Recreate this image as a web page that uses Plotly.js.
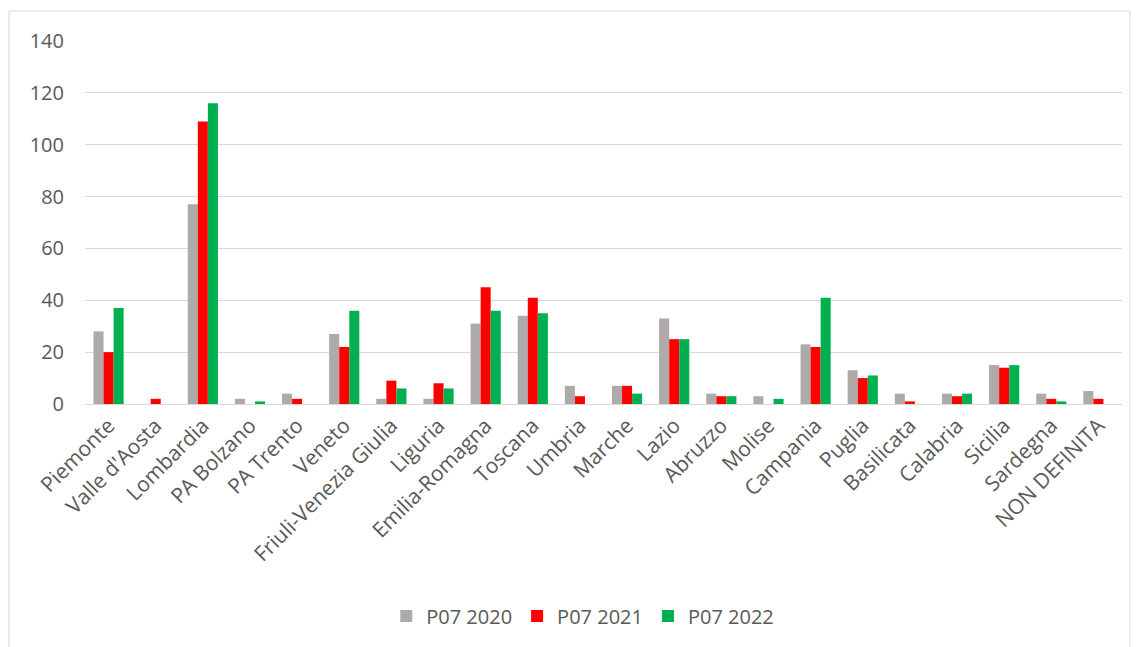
<!DOCTYPE html>
<html>
<head>
<meta charset="utf-8">
<script src="https://cdn.plot.ly/plotly-3.0.1.min.js"></script>
<style>html,body{margin:0;padding:0;background:#fff;}#chart{width:1138px;height:647px;}</style>
</head>
<body>
<div id="chart"></div>
<script>
const categories = ["Piemonte","Valle d'Aosta","Lombardia","PA Bolzano","PA Trento","Veneto","Friuli-Venezia Giulia","Liguria","Emilia-Romagna","Toscana","Umbria","Marche","Lazio","Abruzzo","Molise","Campania","Puglia","Basilicata","Calabria","Sicilia","Sardegna","NON DEFINITA"];
const p07_2020 = [28,0,77,2,4,27,2,2,31,34,7,7,33,4,3,23,13,4,4,15,4,5];
const p07_2021 = [20,2,109,0,2,22,9,8,45,41,3,7,25,3,0,22,10,1,3,14,2,2];
const p07_2022 = [37,0,116,1,0,36,6,6,36,35,0,4,25,3,2,41,11,0,4,15,1,0];
const seriesNames = ["P07 2020","P07 2021","P07 2022"];
const colors = ["#AEAAAA","#FF0000","#00B050"];

const traces = [p07_2020,p07_2021,p07_2022].map((v,i)=>({
  type:'bar', x:categories, y:v, name:seriesNames[i],
  marker:{color:colors[i]}, hoverinfo:'skip'
}));

const layout = {
  width:1138, height:647,
  margin:{l:85, r:16, t:41, b:243},
  paper_bgcolor:'#fff', plot_bgcolor:'#fff',
  barmode:'group', bargap:0.36, bargroupgap:0,
  font:{family:"'Open Sans', sans-serif", color:'#595959', size:20},
  xaxis:{tickangle:-45, tickfont:{size:21, color:'#595959'}, showgrid:false,
         showline:true, linecolor:'#d9d9d9', linewidth:1, ticks:'', automargin:false},
  yaxis:{range:[0,140], dtick:20, tickfont:{size:20, color:'#595959'}, showgrid:true,
         gridcolor:'#d9d9d9', gridwidth:1, zeroline:false, showline:false, ticks:'',
         ticklabelstandoff:20, automargin:false},
  legend:{orientation:'h', x:0.48, xanchor:'center', y:-0.584, yanchor:'middle',
          font:{size:20, color:'#595959'}, itemwidth:30, traceorder:'normal'},
  shapes:[{type:'rect', xref:'paper', yref:'paper', x0:-0.0733, x1:1.0077, y0:-0.7, y1:1.0826,
           line:{color:'#d9d9d9', width:1}, fillcolor:'rgba(0,0,0,0)', layer:'below'}],
  showlegend:true
};
Plotly.newPlot('chart', traces, layout, {displayModeBar:false, staticPlot:true});
</script>
</body>
</html>
